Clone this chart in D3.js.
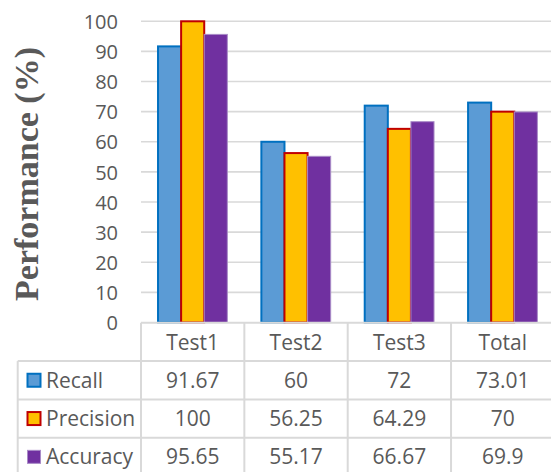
<!DOCTYPE html>
<html>
<head>
<meta charset="utf-8">
<script src="https://cdn.jsdelivr.net/npm/d3@7"></script>
<style>
  body { margin: 0; background: #fff; }
  text { font-family: "Open Sans", sans-serif; fill: #595959; }
</style>
</head>
<body>
<svg width="551" height="472"></svg>
<script>
// chart data
var categories = ['Test1', 'Test2', 'Test3', 'Total'];
var seriesNames = ['Recall', 'Precision', 'Accuracy'];
var recall = [91.67, 60, 72, 73.01];
var precision = [100, 56.25, 64.29, 70];
var accuracy = [95.65, 55.17, 66.67, 69.9];
var tableLabels = [
    ['91.67', '60', '72', '73.01'],
    ['100', '56.25', '64.29', '70'],
    ['95.65', '55.17', '66.67', '69.9']
];
var yTicks = [0, 10, 20, 30, 40, 50, 60, 70, 80, 90, 100];

var seriesValues = [recall, precision, accuracy];
var fills = ['#5b9bd5', '#ffc000', '#7030a0'];
var strokes = ['#0070c0', '#c00000', '#a98bc7'];
var strokeW = [2, 2, 1];

var svg = d3.select('svg');

var plotLeft = 141, plotRight = 554.4;
var yTop = 21.3, yBottom = 322.5;

var xScale = d3.scaleBand()
    .domain(categories)
    .range([plotLeft, plotRight])
    .padding(0);

var xSub = d3.scaleBand()
    .domain(seriesNames)
    .range([0, xScale.bandwidth()])
    .paddingInner(0)
    .paddingOuter(0.737);

var yScale = d3.scaleLinear()
    .domain([0, 100])
    .range([yBottom, yTop]);

// gridlines
svg.append('g')
    .selectAll('line')
    .data(yTicks.slice(1))
    .enter().append('line')
    .attr('x1', plotLeft)
    .attr('x2', 551)
    .attr('y1', function(d) { return yScale(d); })
    .attr('y2', function(d) { return yScale(d); })
    .attr('stroke', '#d9d9d9')
    .attr('stroke-width', 1.6);

// y axis tick labels
var yAxis = d3.axisLeft(yScale).tickValues(yTicks).tickSize(0).tickPadding(0);
var yG = svg.append('g')
    .attr('transform', 'translate(118,0)')
    .call(yAxis);
yG.select('.domain').remove();
yG.selectAll('text')
    .attr('font-size', 20)
    .attr('font-family', '"Open Sans", sans-serif')
    .style('fill', '#595959')
    .attr('dy', '0.36em');

// y title
svg.append('text')
    .attr('transform', 'translate(38,174) rotate(-90)')
    .attr('text-anchor', 'middle')
    .style('font-family', '"Liberation Serif", "Times New Roman", serif')
    .style('font-weight', 'bold')
    .style('font-size', '34px')
    .text('Performance (%)');

// bars
var groups = svg.selectAll('.grp')
    .data(categories)
    .enter().append('g')
    .attr('class', 'grp')
    .attr('transform', function(d) { return 'translate(' + xScale(d) + ',0)'; });

groups.selectAll('rect')
    .data(function(d, i) {
        return seriesNames.map(function(s, j) {
            return { series: s, idx: j, value: seriesValues[j][i] };
        });
    })
    .enter().append('rect')
    .attr('x', function(d) { return xSub(d.series); })
    .attr('width', xSub.bandwidth())
    .attr('y', function(d) { return yScale(d.value); })
    .attr('height', function(d) { return yBottom - yScale(d.value); })
    .attr('fill', function(d) { return fills[d.idx]; })
    .attr('stroke', function(d) { return strokes[d.idx]; })
    .attr('stroke-width', function(d) { return strokeW[d.idx]; });

// data table
var rowH = 38.3;
var headerTop = yBottom + 0.3;
var tableLeft = 17.7;
var gridColor = '#d9d9d9';
var tG = svg.append('g');

// horizontal lines
tG.append('line')
    .attr('x1', plotLeft).attr('x2', 551)
    .attr('y1', headerTop).attr('y2', headerTop)
    .attr('stroke', gridColor).attr('stroke-width', 2);
for (var r = 1; r <= 4; r++) {
    tG.append('line')
        .attr('x1', tableLeft).attr('x2', 551)
        .attr('y1', headerTop + r * rowH).attr('y2', headerTop + r * rowH)
        .attr('stroke', gridColor).attr('stroke-width', 2);
}
// vertical lines
tG.append('line')
    .attr('x1', tableLeft).attr('x2', tableLeft)
    .attr('y1', headerTop + rowH).attr('y2', 472)
    .attr('stroke', gridColor).attr('stroke-width', 2);
categories.forEach(function(c) {
    tG.append('line')
        .attr('x1', xScale(c)).attr('x2', xScale(c))
        .attr('y1', headerTop).attr('y2', 472)
        .attr('stroke', gridColor).attr('stroke-width', 2);
});
tG.append('line')
    .attr('x1', plotRight).attr('x2', plotRight)
    .attr('y1', headerTop).attr('y2', 472)
    .attr('stroke', gridColor).attr('stroke-width', 2);

// header
tG.selectAll('.hdr')
    .data(categories)
    .enter().append('text')
    .attr('class', 'hdr')
    .attr('x', function(d) { return xScale(d) + xScale.bandwidth() / 2; })
    .attr('y', headerTop + rowH / 2)
    .attr('dy', '0.36em')
    .attr('text-anchor', 'middle')
    .style('font-size', '21px')
    .text(function(d) { return d; });

// rows
seriesNames.forEach(function(s, j) {
    var cy = headerTop + rowH * (j + 1) + rowH / 2;
    tG.append('rect')
        .attr('x', 27.5).attr('y', cy - 6.5)
        .attr('width', 13).attr('height', 13)
        .attr('fill', fills[j])
        .attr('stroke', strokes[j])
        .attr('stroke-width', strokeW[j]);
    tG.append('text')
        .attr('x', 46).attr('y', cy)
        .attr('dy', '0.36em')
        .style('font-size', '21px')
        .text(s);
    categories.forEach(function(c, i) {
        tG.append('text')
            .attr('x', xScale(c) + xScale.bandwidth() / 2)
            .attr('y', cy)
            .attr('dy', '0.36em')
            .attr('text-anchor', 'middle')
            .style('font-size', '21px')
            .text(tableLabels[j][i]);
    });
});
</script>
</body>
</html>
